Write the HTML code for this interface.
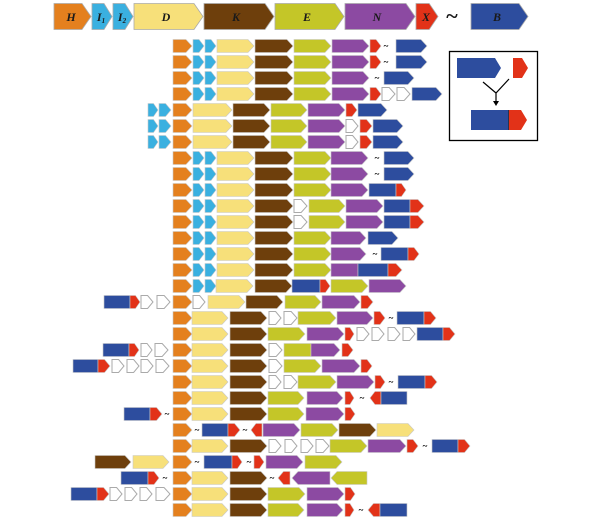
<!DOCTYPE html>
<html><head><meta charset="utf-8"><style>
html,body{margin:0;padding:0;background:#fff;width:600px;height:525px;overflow:hidden}
svg{display:block}
text{font-family:"Liberation Serif",serif}
</style></head><body>
<svg id="s" width="600" height="525" viewBox="0 0 600 525" xmlns="http://www.w3.org/2000/svg">
<g id="hdr"></g>
<g id="rows"></g>
<g id="lbl" font-style="italic" font-weight="bold" font-size="12" fill="#1a1a1a" text-anchor="middle">
<text x="71" y="21">H</text>
<text x="101" y="21">I<tspan font-size="7" dy="2">1</tspan></text>
<text x="122" y="21">I<tspan font-size="7" dy="2">2</tspan></text>
<text x="166" y="21">D</text>
<text x="236" y="21">K</text>
<text x="307" y="21">E</text>
<text x="377" y="21">N</text>
<text x="426" y="21">X</text>
<text x="452" y="23" font-style="normal" font-size="22">~</text>
<text x="497" y="21">B</text>
</g>
<g id="tl" font-size="9" font-weight="bold" fill="#000" text-anchor="middle"></g>
<rect x="449.5" y="51.5" width="88" height="89" fill="none" stroke="#000" stroke-width="1.3"/>
<polygon points="457,58 495,58 501,68 495,78 457,78" fill="#2d4d9e"/>
<polygon points="513,58 522,58 528,68 522,78 513,78" fill="#e23218"/>
<path d="M483,82 L496,93 L509,79 M496,93 L496,103" stroke="#000" stroke-width="1.2" fill="none"/>
<polygon points="493,101 499,101 496,106" fill="#000"/>
<rect x="471" y="110" width="38" height="20" fill="#2d4d9e"/>
<line x1="509" y1="110" x2="509" y2="130" stroke="#222" stroke-width="1.2"/>
<polygon points="509,110 521,110 527,120 521,130 509,130" fill="#e23218"/>
</svg>
<script>
var C={o:'#e4801e',c:'#3ab0e0',D:'#f7e07a',K:'#6e3f0c',E:'#c4c628',N:'#8c4aa2',X:'#e23218',B:'#2d4d9e',w:'#ffffff'};
var NS='http://www.w3.org/2000/svg';
function shape(g,t,x1,x2,y,h,mode){
  var p=Math.min(6,(x2-x1)*0.45),a=y-h/2,b=y+h/2,pts;
  if(mode=='R')pts=[x1,a,x2,a,x2,b,x1,b];
  else if(mode=='r')pts=[x1+p,a,x2,a,x2,b,x1+p,b,x1,y];
  else pts=[x1,a,x2-p,a,x2,y,x2-p,b,x1,b];
  var e=document.createElementNS(NS,'polygon');
  e.setAttribute('points',pts.join(' '));
  e.setAttribute('fill',C[t]);
  e.setAttribute('stroke',t=='w'?'#aaa':'#c8c8c8');
  e.setAttribute('stroke-width',t=='w'?'1':'0.6');
  g.appendChild(e);
}
var P="o173-192 c193-204 c205-216 D217-254 K255-293 E294-331";
var P2="o173-192 D192-228 K230-267";
var S5="c148-158 c159-171 o173-192 D193-232 K233-270 E271-307 N308-345";
var R=[
P+" N332-369 X370-381 ~386 B396-427",
P+" N332-369 X370-381 ~386 B396-427",
P+" N332-369 ~377 B384-414",
P+" N332-369 X370-381 w382-395 w397-410 B412-442",
S5+" X346-357 B358-387",
S5+" w346-358 X360-372 B373-403",
S5+" w346-358 X360-372 B373-403",
P+" N331-368 ~377 B384-414",
P+" N331-368 ~377 B384-414",
P+" N331-368 BR369-396 X396-406",
"o173-192 c193-204 c205-216 D217-254 K255-293 w294-307 E309-345 N346-383 BR384-410 X410-424",
"o173-192 c193-204 c205-216 D217-254 K255-293 w294-307 E309-345 N346-383 BR384-410 X410-424",
P+" N331-366 B368-398",
P+" N331-366 ~375 BR381-408 X408-419",
P+" NR331-358 BR358-388 X388-402",
"o173-192 c193-204 c205-216 D216-253 K255-292 BR292-320 X320-330 E331-368 N369-406",
"BR104-130 X130-140 w141-153 w157-170 o173-192 w193-205 D208-245 K246-283 E285-321 N322-360 X361-373",
P2+" w269-281 w284-297 E298-336 N337-373 X374-385 ~391 BR397-424 X424-436",
P2+" E268-305 N307-344 X345-354 w357-369 w372-384 w388-400 w403-415 BR417-443 X443-455",
"BR103-129 X129-139 w141-152 w155-168 "+P2+" w269-282 ER284-311 N311-340 X342-353",
"BR73-98 X98-110 w112-124 w127-139 w141-153 w156-169 "+P2+" w269-282 E284-321 N322-360 X361-372",
P2+" w269-281 w284-297 E298-336 N337-374 X375-385 ~391 BR398-425 X425-437",
P2+" E268-304 N307-343 X345-354 ~362 Xr370-381 BR381-407",
"BR124-150 X150-162 ~167 "+P2+" E268-304 N306-344 X345-355",
"o173-192 ~197 BR202-228 X228-240 ~245 Xr251-262 N263-300 E301-338 K339-376 D377-414",
P2+" w269-281 w285-297 w301-313 w316-329 E330-367 N368-406 X407-418 ~425 BR432-458 X458-470",
"K95-131 D133-169 o173-192 ~197 BR204-232 X232-242 ~249 X254-264 N266-303 E305-342",
"BR121-148 X148-159 ~165 "+P2+" ~272 Xr278-290 Nr292-330 Er331-367",
"BR71-97 X97-109 w110-122 w125-137 w140-152 w156-170 "+P2+" E268-305 N307-344 X345-355",
P2+" E268-304 N307-343 X345-354 ~361 Xr368-380 BR380-407"
];
var g=document.getElementById('rows'),tl=document.getElementById('tl');
R.forEach(function(r,i){
  var y=46+i*16;
  r.split(' ').forEach(function(tok){
    if(tok[0]=='~'){
      var t=document.createElementNS(NS,'text');
      t.setAttribute('x',tok.slice(1));t.setAttribute('y',y+3);t.textContent='~';tl.appendChild(t);return;
    }
    var m=tok.match(/^([a-zA-Z])([Rr]?)(\d+)-(\d+)$/);
    shape(g,m[1],+m[3],+m[4],y,13,m[2]);
  });
});
var h=document.getElementById('hdr');
[["o",54,91],["c",92,112],["c",113,133],["D",134,203],["K",204,274],["E",275,344],["N",345,415],["X",416,438],["B",471,528]].forEach(function(a){
  var x1=a[1],x2=a[2],y=16.5,hh=26,p=Math.min(9,(x2-x1)*0.4);
  var e=document.createElementNS(NS,'polygon');
  e.setAttribute('points',[x1,y-hh/2,x2-p,y-hh/2,x2,y,x2-p,y+hh/2,x1,y+hh/2].join(' '));
  e.setAttribute('fill',C[a[0]]);e.setAttribute('stroke','#aaa');e.setAttribute('stroke-width','0.8');
  h.appendChild(e);
});
</script>
</body></html>
